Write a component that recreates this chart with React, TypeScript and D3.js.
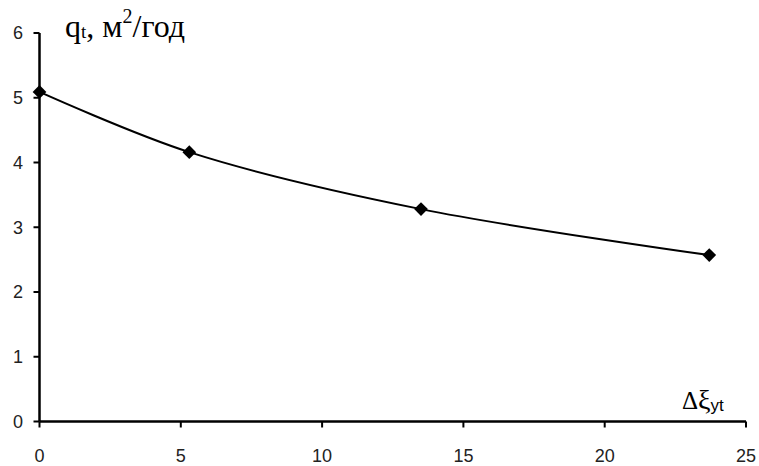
import React from "react";
import * as d3 from "d3";

const xValues = [0, 5.3, 13.5, 23.7];
const yValues = [5.09, 4.16, 3.28, 2.57];
const xTicks = [0, 5, 10, 15, 20, 25];
const yTicks = [0, 1, 2, 3, 4, 5, 6];

const W = 759;
const H = 466;

export default function App() {
  const x = d3.scaleLinear().domain([0, 25]).range([39.5, 746]);
  const y = d3.scaleLinear().domain([0, 6]).range([421.5, 33]);
  const pts = xValues.map((v, i) => [x(v), y(yValues[i])] as [number, number]);
  const line = d3.line().curve(d3.curveCatmullRom.alpha(0.5))(pts) || "";
  const diamond = d3.symbol().type(d3.symbolDiamond2).size(120)() || "";
  return (
    <svg
      width={W}
      height={H}
      style={{ position: "absolute", left: 0, top: 0, background: "#fff" }}
    >
      <rect width={W} height={H} fill="#fff" />
      {/* y axis */}
      <line x1={x(0)} x2={x(0)} y1={y(6)} y2={y(0)} stroke="#000" strokeWidth={2.5} />
      {yTicks.map((t) => (
        <g key={"y" + t}>
          <line x1={x(0) - 6} x2={x(0)} y1={y(t)} y2={y(t)} stroke="#000" strokeWidth={2} />
          <text
            x={23}
            y={y(t)}
            dy="0.35em"
            textAnchor="end"
            fontFamily="Liberation Sans, Arial, sans-serif"
            fontSize={18}
            fill="#222"
          >
            {t}
          </text>
        </g>
      ))}
      {/* x axis */}
      <line x1={x(0)} x2={x(25)} y1={y(0)} y2={y(0)} stroke="#000" strokeWidth={2.5} />
      {xTicks.map((t) => (
        <g key={"x" + t}>
          <line x1={x(t)} x2={x(t)} y1={y(0)} y2={y(0) + 6} stroke="#000" strokeWidth={2} />
          <text
            x={x(t)}
            y={462}
            textAnchor="middle"
            fontFamily="Liberation Sans, Arial, sans-serif"
            fontSize={18}
            fill="#222"
          >
            {t}
          </text>
        </g>
      ))}
      {/* curve */}
      <path d={line} fill="none" stroke="#000" strokeWidth={2} />
      {pts.map((p, i) => (
        <path key={i} d={diamond} transform={`translate(${p[0]},${p[1]})`} fill="#000" />
      ))}
      {/* y title */}
      <text x={65} y={37} fontFamily="Liberation Serif, Times New Roman, serif" fontSize={32} fill="#000">
        q<tspan fontSize={19} dy={1}>t</tspan>
        <tspan dy={-1}>, м</tspan>
        <tspan fontSize={20} dy={-14}>2</tspan>
        <tspan dy={14}>/год</tspan>
      </text>
      {/* x title */}
      <text x={682} y={409} fontFamily="Liberation Serif, Times New Roman, serif" fontSize={25} fill="#000">
        Δ<tspan fontSize={28}>ξ</tspan>
        <tspan fontFamily="Liberation Sans, Arial, sans-serif" fontSize={17} dy={2}>yt</tspan>
      </text>
    </svg>
  );
}
